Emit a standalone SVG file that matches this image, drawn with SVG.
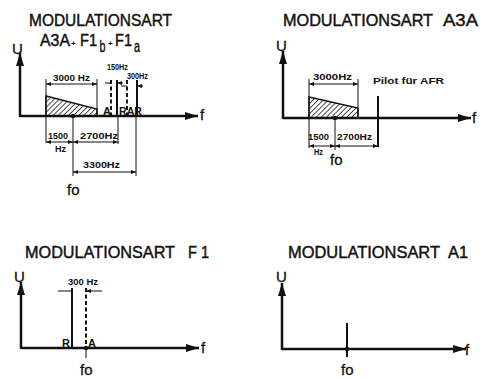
<svg xmlns="http://www.w3.org/2000/svg" width="480" height="378" viewBox="0 0 480 378">
<defs>
<style>
.title{font-family:"Liberation Sans",Arial,sans-serif;font-size:17px;fill:#111;stroke:#111;stroke-width:0.45;}
.axl{font-family:"Liberation Sans",Arial,sans-serif;font-size:15px;fill:#111;stroke:#111;stroke-width:0.3;}
.lbl{font-family:"Liberation Sans",Arial,sans-serif;font-size:9px;font-weight:bold;fill:#111;}
.pl{font-family:"Liberation Sans",Arial,sans-serif;font-size:8px;font-weight:bold;fill:#111;}
.sl{font-family:"Liberation Sans",Arial,sans-serif;font-size:11px;font-weight:bold;fill:#111;}
.axis{stroke:#111;stroke-width:2.5;fill:none;}
.thin{stroke:#111;stroke-width:1;fill:none;}
.sig{stroke:#111;stroke-width:2;fill:none;}
.dash{stroke:#111;stroke-width:2;fill:none;stroke-dasharray:4 2.5;}
.dim{stroke:#111;stroke-width:1;fill:none;marker-start:url(#da);marker-end:url(#da);}
.dimi{stroke:#111;stroke-width:1;fill:none;marker-end:url(#da);}
.band{fill:url(#hatch);stroke:#111;stroke-width:1.5;}
</style>
<marker id="ah" markerUnits="userSpaceOnUse" markerWidth="14" markerHeight="10" refX="13" refY="5" orient="auto">
<path d="M0,1 L13,5 L0,9 Z" fill="#111"/>
</marker>
<marker id="da" markerUnits="userSpaceOnUse" markerWidth="6" markerHeight="4" refX="5" refY="2" orient="auto-start-reverse">
<path d="M0,0 L5,2 L0,4 Z" fill="#111"/>
</marker>
<pattern id="hatch" patternUnits="userSpaceOnUse" width="3.6" height="4" patternTransform="rotate(45)">
<rect width="3.6" height="4" fill="#fff"/>
<line x1="0" y1="0" x2="0" y2="4" stroke="#111" stroke-width="1.5"/>
</pattern>
</defs>
<rect width="480" height="378" fill="#fff"/>

<g id="panel-a3a-f1">
<text class="title" x="29" y="25.5" textLength="143" lengthAdjust="spacingAndGlyphs">MODULATIONSART</text>
<text class="title" x="40" y="46" textLength="30" lengthAdjust="spacingAndGlyphs">A3A</text>
<text class="pl" x="71" y="46">+</text>
<text class="title" x="80" y="46" textLength="17" lengthAdjust="spacingAndGlyphs">F1</text>
<text class="title" x="99.5" y="52" font-size="13" textLength="6" lengthAdjust="spacingAndGlyphs">b</text>
<text class="pl" x="108" y="46">+</text>
<text class="title" x="115" y="46" textLength="17" lengthAdjust="spacingAndGlyphs">F1</text>
<text class="title" x="134" y="52" font-size="13" textLength="6" lengthAdjust="spacingAndGlyphs">a</text>
<text class="axl" x="12" y="54">U</text>
<text class="axl" x="200" y="120">f</text>
<polygon class="band" points="46,96 97,109 97,116 46,116"/>
<text class="lbl" x="53" y="81" textLength="37" lengthAdjust="spacingAndGlyphs">3000 Hz</text>
<text class="lbl" x="107" y="70" textLength="21" lengthAdjust="spacingAndGlyphs">150Hz</text>
<text class="lbl" x="127" y="79" textLength="21" lengthAdjust="spacingAndGlyphs">300Hz</text>
<text class="sl" x="103" y="114.5">A</text>
<text class="sl" x="119" y="114.5" textLength="23" lengthAdjust="spacingAndGlyphs">RAR</text>
<text class="lbl" x="48" y="139" textLength="20" lengthAdjust="spacingAndGlyphs">1500</text>
<text class="lbl" x="55" y="152" textLength="11" lengthAdjust="spacingAndGlyphs">Hz</text>
<text class="lbl" x="80" y="139" textLength="38" lengthAdjust="spacingAndGlyphs">2700Hz</text>
<text class="lbl" x="83" y="168" textLength="37" lengthAdjust="spacingAndGlyphs">3300Hz</text>
<text class="axl" x="67" y="195">fo</text>
</g>

<g id="panel-a3a">
<text class="title" x="283" y="26" textLength="150" lengthAdjust="spacingAndGlyphs">MODULATIONSART</text>
<text class="title" x="443" y="26" textLength="35" lengthAdjust="spacingAndGlyphs">A3A</text>
<text class="axl" x="276" y="51">U</text>
<text class="axl" x="472" y="123">f</text>
<polygon class="band" points="309,97 358,108 358,118 309,118"/>
<text class="lbl" x="313" y="80" textLength="39" lengthAdjust="spacingAndGlyphs">3000Hz</text>
<text class="lbl" x="373" y="84" textLength="71" lengthAdjust="spacingAndGlyphs">Pilot für AFR</text>
<text class="lbl" x="308" y="140" textLength="21" lengthAdjust="spacingAndGlyphs">1500</text>
<text class="lbl" x="314" y="155" textLength="9" lengthAdjust="spacingAndGlyphs">Hz</text>
<text class="lbl" x="337" y="140" textLength="35" lengthAdjust="spacingAndGlyphs">2700Hz</text>
<text class="axl" x="330" y="165">fo</text>
</g>

<g id="panel-f1">
<text class="title" x="25" y="258" textLength="150" lengthAdjust="spacingAndGlyphs">MODULATIONSART</text>
<text class="title" x="188" y="258" textLength="21" lengthAdjust="spacingAndGlyphs">F 1</text>
<text class="axl" x="14" y="282">U</text>
<text class="axl" x="201" y="353">f</text>
<text class="lbl" x="68" y="285" textLength="30" lengthAdjust="spacingAndGlyphs">300 Hz</text>
<text class="sl" x="62" y="347" font-size="12">R</text>
<text class="sl" x="88" y="347" font-size="12">A</text>
<text class="axl" x="80" y="375">fo</text>
</g>

<g id="panel-a1">
<text class="title" x="288" y="258" textLength="152" lengthAdjust="spacingAndGlyphs">MODULATIONSART</text>
<text class="title" x="448" y="258" textLength="20" lengthAdjust="spacingAndGlyphs">A1</text>
<text class="axl" x="276" y="282">U</text>
<text class="axl" x="465" y="355">f</text>
<text class="axl" x="341" y="375">fo</text>
</g>

<g id="connectors">
<path class="axis" d="M20,117 V53" marker-end="url(#ah)"/>
<path class="axis" d="M20,116 H198" marker-end="url(#ah)"/>
<path class="thin" d="M46,79 V143 M97,79 V116 M73,116 V176 M118,116 V144 M136,116 V176"/>
<path class="dim" d="M46,84 H97"/>
<path class="dash" d="M111,80 V116 M127,80 V116"/>
<path class="sig" d="M117,80 V116 M137,80 V116"/>
<path class="dimi" d="M105,83 H111 M123,83 H117"/>
<path class="dimi" d="M121,86 H127 M143,86 H137"/>
<path class="dim" d="M46,142 H73"/>
<path class="dim" d="M73,142 H118"/>
<path class="dim" d="M73,172 H136"/>
<circle cx="73" cy="116" r="2.2" fill="#111"/>
<path class="axis" d="M283,119 V51" marker-end="url(#ah)"/>
<path class="axis" d="M283,118 H471" marker-end="url(#ah)"/>
<path class="thin" d="M309,79 V148 M358,79 V118 M335,118 V150"/>
<path class="dim" d="M309,84 H358"/>
<path class="sig" d="M378,96 V147"/>
<path class="dim" d="M309,146 H335"/>
<path class="dim" d="M335,146 H378"/>
<circle cx="335" cy="118" r="2.2" fill="#111"/>
<path class="axis" d="M21,349 V282" marker-end="url(#ah)"/>
<path class="axis" d="M21,348 H199" marker-end="url(#ah)"/>
<path class="sig" d="M72,288 V348"/>
<path class="dash" d="M86,288 V348"/>
<path class="thin" d="M86,348 V358"/>
<path class="dimi" d="M58,291 H72 M102,291 H86"/>
<circle cx="86" cy="348" r="2.2" fill="#111"/>
<path class="axis" d="M282,350 V283" marker-end="url(#ah)"/>
<path class="axis" d="M282,349 H466" marker-end="url(#ah)"/>
<path class="sig" d="M347,323 V357"/>
<circle cx="347" cy="349" r="2.2" fill="#111"/>
</g>
</svg>
